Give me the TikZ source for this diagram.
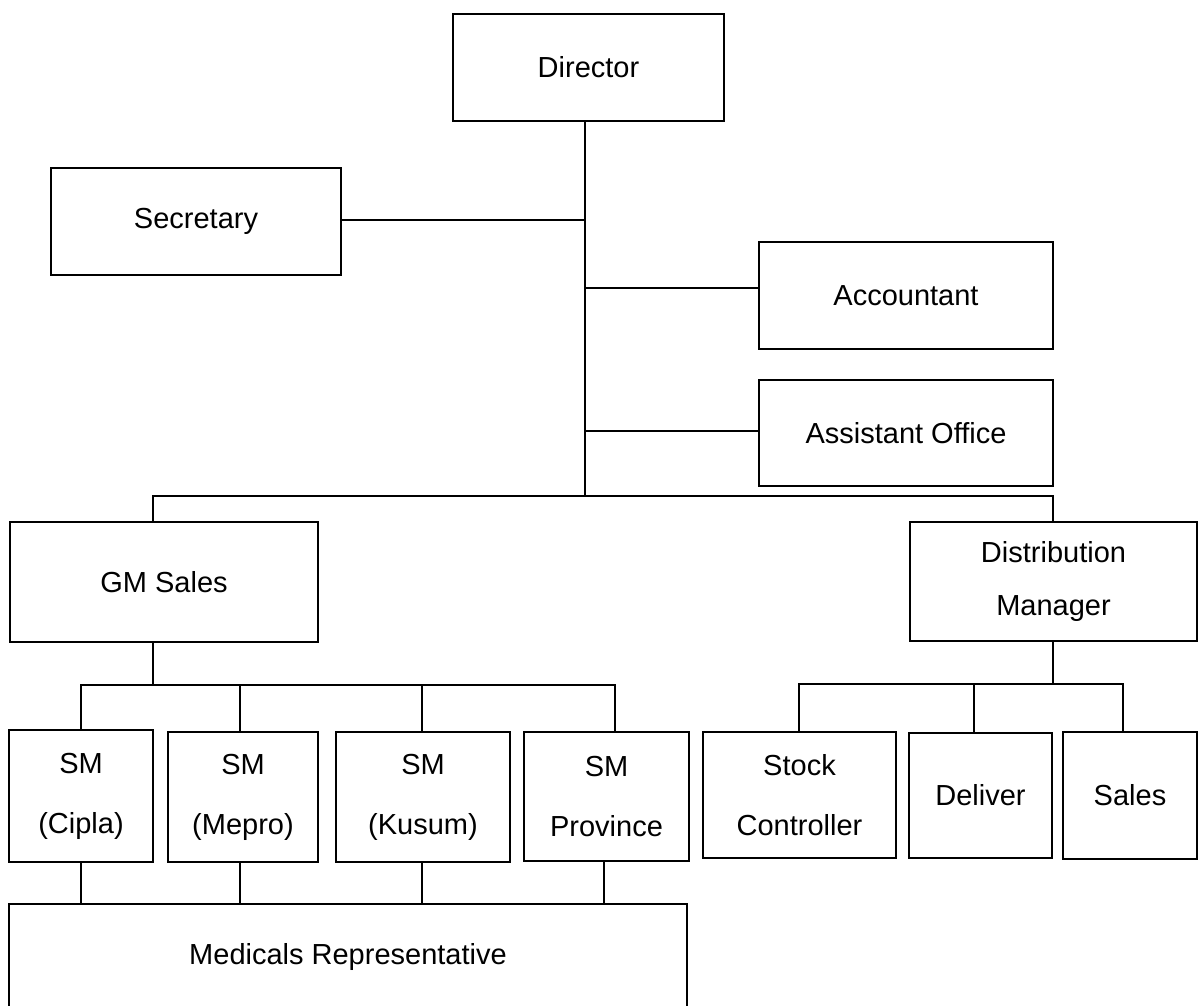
\documentclass[tikz,border=0pt]{standalone}
\usepackage{fontspec}
\setmainfont{Liberation Sans}
\begin{document}
\begin{tikzpicture}[x=1pt,y=-1pt,
  orgbox/.style={draw, line width=1.5pt, inner sep=0pt, align=center,
    font=\fontsize{29}{60}\selectfont},
  link/.style={line width=1.5pt}]
\useasboundingbox (0,0) rectangle (1200,1006);
\clip (0,0) rectangle (1200,1006);
% boxes
\node[orgbox, minimum width=271pt, minimum height=107pt] (dir) at (588.5,67.5) {Director};
\node[orgbox, minimum width=290pt, minimum height=107pt] (sec) at (196,221.5) {Secretary};
\node[orgbox, minimum width=294pt, minimum height=107pt] (acc) at (906,295.5) {Accountant};
\node[orgbox, minimum width=294pt, minimum height=106pt] (ass) at (906,433) {Assistant Office};
\node[orgbox, minimum width=308pt, minimum height=120pt] (gm) at (164,582) {GM Sales};
\node[orgbox, minimum width=287pt, minimum height=119pt, font=\fontsize{29}{53}\selectfont] (dm) at (1053.5,581.5) {Distribution\\Manager};
\node[orgbox, minimum width=144pt, minimum height=132pt] (cip) at (81,796) {SM\\(Cipla)};
\node[orgbox, minimum width=150pt, minimum height=130pt] (mep) at (243,797) {SM\\(Mepro)};
\node[orgbox, minimum width=174pt, minimum height=130pt] (kus) at (423,797) {SM\\(Kusum)};
\node[orgbox, minimum width=165pt, minimum height=129pt] (pro) at (606.5,796.5) {SM\\Province};
\node[orgbox, minimum width=678pt, minimum height=106pt] (med) at (348,957) {Medicals Representative};
\node[orgbox, minimum width=193pt, minimum height=126pt] (stk) at (799.5,795) {Stock\\Controller};
\node[orgbox, minimum width=143pt, minimum height=125pt] (del) at (980.5,795.5) {Deliver};
\node[orgbox, minimum width=134pt, minimum height=127pt] (sal) at (1130,795.5) {Sales};
% junction coordinates
\coordinate (j) at (585,496);
\coordinate (cY) at (585,220);
\coordinate (aY) at (585,288);
\coordinate (sY) at (585,431);
\coordinate (bL) at (153,496);
\coordinate (bR) at (1053,496);
\coordinate (g2) at (153,685);
\coordinate (gL) at (81,685);
\coordinate (gM) at (240,685);
\coordinate (gK) at (422,685);
\coordinate (gR) at (615,685);
\coordinate (d2) at (1053,684);
\coordinate (dL) at (799,684);
\coordinate (dM) at (974,684);
\coordinate (dR) at (1123,684);
% top level
\draw[link] (j |- dir.south) -- (j);
\draw[link] (sec.east |- cY) -- (cY);
\draw[link] (aY) -- (aY -| acc.west);
\draw[link] (sY) -- (sY -| ass.west);
\draw[link] (bL |- gm.north) -- (bL) -- (bR) -- (bR |- dm.north);
% GM Sales subtree
\draw[link] (g2 |- gm.south) -- (g2);
\draw[link] (gL |- cip.north) -- (gL) -- (gR) -- (gR |- pro.north);
\draw[link] (gM) -- (gM |- mep.north);
\draw[link] (gK) -- (gK |- kus.north);
\draw[link] (cip.south) -- (cip.south |- med.north);
\draw[link] ([xshift=-3pt]mep.south) -- ([xshift=-3pt]mep.south |- med.north);
\draw[link] ([xshift=-1pt]kus.south) -- ([xshift=-1pt]kus.south |- med.north);
\draw[link] ([xshift=-2.5pt]pro.south) -- ([xshift=-2.5pt]pro.south |- med.north);
% Distribution subtree
\draw[link] (d2 |- dm.south) -- (d2);
\draw[link] (dL |- stk.north) -- (dL) -- (dR) -- (dR |- sal.north);
\draw[link] (dM) -- (dM |- del.north);
\end{tikzpicture}
\end{document}
